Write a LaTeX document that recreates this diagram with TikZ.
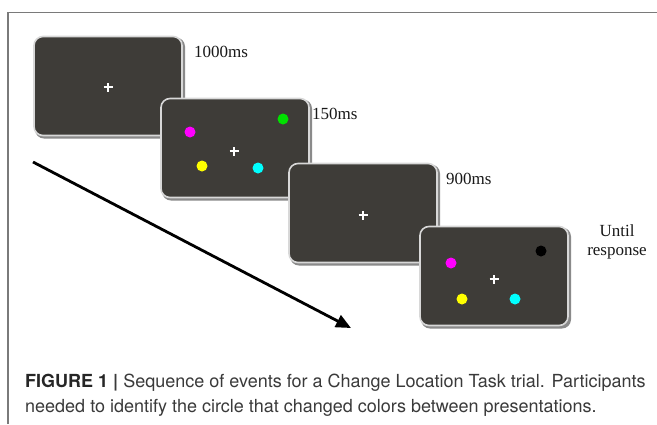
\documentclass[tikz,border=0pt]{standalone}
\usepackage{fontspec}
\setmainfont{Liberation Serif}
\newfontfamily\capfont{TeX Gyre Heros}
\usetikzlibrary{arrows.meta}
\definecolor{scr}{HTML}{3E3C38}
\definecolor{rim}{HTML}{D8D8D8}
\definecolor{shd}{HTML}{8A8A8A}
\definecolor{frame}{HTML}{7A7A7A}
\definecolor{captxt}{HTML}{3A3A3A}
\definecolor{dmag}{HTML}{FF00FF}
\definecolor{dgrn}{HTML}{00E000}
\definecolor{dyel}{HTML}{FFFF00}
\definecolor{dcya}{HTML}{00FFFF}
\tikzset{
  screen/.style={rectangle, rounded corners=9pt, fill=scr, draw=rim, line width=1.6pt,
    minimum width=148pt, minimum height=99pt, inner sep=0pt},
  shadowbox/.style={rectangle, rounded corners=9pt, fill=shd, minimum width=150pt, minimum height=101pt, inner sep=0pt},
  dot/.style={circle, inner sep=0pt, minimum size=11pt},
  dur/.style={font=\fontsize{17}{18.5}\selectfont, inner sep=0pt, text=black!90},
  capline/.style={font=\capfont\fontsize{18}{21}\selectfont, inner sep=0pt, text=captxt, anchor=base west},
  timearrow/.style={line width=2.8pt, -{Triangle[length=15pt,width=13pt]}}
}
\newcommand{\fixcross}[1]{%
  \draw[white, line width=2pt] ([xshift=-4.5pt]#1) -- ([xshift=4.5pt]#1);
  \draw[white, line width=2pt] ([yshift=-4.5pt]#1) -- ([yshift=4.5pt]#1);}
\begin{document}
\begin{tikzpicture}[x=1pt,y=-1pt]
\useasboundingbox (0,0) rectangle (657,424);
\fill[white] (0,0) rectangle (657,424);
% frame
\draw[frame, line width=1.5pt] (8,424) -- (8,12.5) -- (657,12.5);
% screen 1
\node[shadowbox] at (110,88) {};
\node[screen] (s1) at (108,86) {};
\coordinate (c1) at (108,87);
\fixcross{c1}
% screen 2
\node[shadowbox] at (237,150) {};
\node[screen] (s2) at (235,148) {};
\coordinate (c2) at (234,151);
\fixcross{c2}
\node[dot, fill=dmag] (m2) at (190,132) {};
\node[dot, fill=dgrn] (g2) at (283,119) {};
\node[dot, fill=dyel] (y2) at (202,166) {};
\node[dot, fill=dcya] (cy2) at (258,168) {};
% screen 3
\node[shadowbox] at (365,215) {};
\node[screen] (s3) at (363,213) {};
\coordinate (c3) at (363,215);
\fixcross{c3}
% screen 4
\node[shadowbox] at (496,278) {};
\node[screen] (s4) at (494,276) {};
\coordinate (c4) at (494,279);
\fixcross{c4}
\node[dot, fill=dmag] (m4) at (451,263) {};
\node[dot, fill=black] (b4) at (541,251) {};
\node[dot, fill=dyel] (y4) at (462,299) {};
\node[dot, fill=dcya] (cy4) at (515,299) {};
% durations
\node[dur, anchor=west] (t1) at (194,52) {1000ms};
\node[dur, anchor=west] (t2) at (312,114) {150ms};
\node[dur, anchor=west] (t3) at (446,179) {900ms};
\node[dur, align=center] (t4) at (617,242) {Until\\response};
% time arrow
\coordinate (a0) at (33,162);
\coordinate (a1) at (351,328);
\draw[timearrow] (a0) -- (a1);
% caption
\node[capline] (cap1) at (25,387) {{\bfseries\color{black!85}FIGURE 1} {\bfseries|} Sequence of events for a Change Location Task trial. Participants};
\node[capline] (cap2) at (25,412) {needed to identify the circle that changed colors between presentations.};
\end{tikzpicture}
\end{document}
